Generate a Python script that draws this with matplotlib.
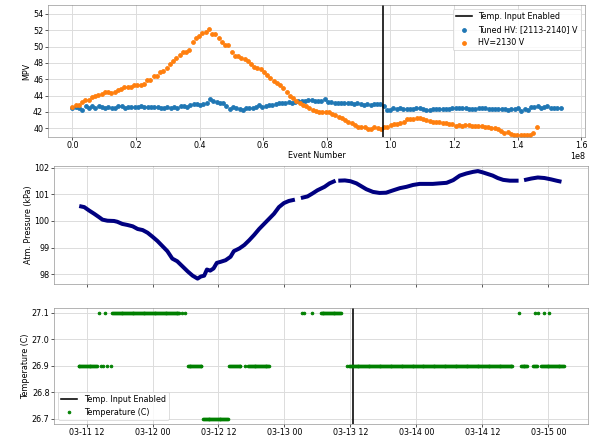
import numpy as np
import pandas as pd
import matplotlib
matplotlib.use('Agg')
import matplotlib.pyplot as plt
import matplotlib.dates as mdates

# ---- MPV vs event number ----
mpv_tuned = [
    42.5, 42.6, 42.5, 42.25, 42.7, 42.45, 42.7, 42.5, 42.7, 42.55,
    42.45, 42.6, 42.5, 42.5, 42.7, 42.7, 42.5, 42.55, 42.6, 42.6,
    42.6, 42.7, 42.6, 42.6, 42.6, 42.55, 42.6, 42.5, 42.5, 42.55,
    42.5, 42.6, 42.5, 42.7, 42.75, 42.6, 42.8,
    42.95, 43.0, 42.9, 42.95, 43.1, 43.6, 43.3, 43.2, 43.05, 43.05,
    42.7, 42.4, 42.55, 42.5, 42.4, 42.2, 42.5, 42.45, 42.5, 42.6,
    42.8, 42.6, 42.7, 42.8, 42.9, 42.95, 43.05, 43.05, 43.1, 43.2,
    43.15, 43.25, 43.3, 43.3, 43.3, 43.45, 43.45, 43.4,
    43.3, 43.3, 43.55, 43.2, 43.2, 43.15, 43.15, 43.15, 43.1, 43.1,
    43.05, 42.95, 43.15, 43.0, 42.9, 42.95, 42.9, 43.0, 43.0, 43.0,
    42.75, 42.25, 42.25, 42.45, 42.35, 42.45, 42.35, 42.4, 42.4, 42.4,
    42.45, 42.5, 42.35, 42.25, 42.25, 42.35, 42.4, 42.35, 42.35, 42.35,
    42.4, 42.45, 42.5, 42.5, 42.5, 42.45, 42.4, 42.4, 42.4, 42.45,
    42.45, 42.5, 42.4, 42.35, 42.4, 42.35, 42.35, 42.4, 42.25, 42.4,
    42.4, 42.45, 42.1, 42.4, 42.25, 42.65, 42.65, 42.7, 42.5, 42.6,
    42.7, 42.5, 42.5, 42.5, 42.5,
]
mpv_fixed = [
    42.6, 42.8, 42.9, 43.2, 43.5, 43.5, 43.8, 44.0, 44.1, 44.2,
    44.4, 44.4, 44.3, 44.5, 44.65, 44.8, 45.0, 45.0, 45.0, 45.3,
    45.3, 45.3, 45.4, 45.9, 45.9, 46.4, 46.4, 46.9, 47.0, 47.4,
    47.9, 48.2, 48.6, 49.0, 49.4, 49.4, 49.6, 50.6, 51.0, 51.3,
    51.7, 51.8, 52.2, 51.6, 51.6, 51.1, 50.6, 50.2, 50.2, 49.4,
    48.9, 48.8, 48.65, 48.5, 48.3, 47.9, 47.55, 47.4, 47.3, 46.9,
    46.5, 46.2, 45.8, 45.5, 45.3, 44.9, 44.5, 43.9, 43.7, 43.35,
    43.1, 42.9,
    42.7, 42.45, 42.2, 42.1, 42.0, 42.0, 42.0, 41.95, 41.8, 41.6,
    41.4, 41.2, 41.0, 40.8, 40.6, 40.45, 40.2, 40.1, 40.1, 39.9,
    39.9, 40.1, 40.0, 39.9, 40.2, 40.2, 40.45, 40.5, 40.55, 40.7,
    40.8, 41.1, 41.1, 41.15, 41.2, 41.2, 41.15, 41.05, 40.9, 40.8,
    40.8, 40.75, 40.7, 40.6, 40.55, 40.5, 40.3, 40.4, 40.3, 40.35,
    40.35, 40.3, 40.3, 40.3, 40.3, 40.2, 40.2, 40.05, 40.0, 39.85,
    39.7, 39.4, 39.5, 39.3, 39.2, 39.15, 39.2, 39.15, 39.2, 39.2,
    39.4, 40.1,
]
tuned_last_event = 1.535e8
fixed_last_event = 1.46e8
temp_enable_event = 0.976e8

# ---- Atmospheric pressure (hours after 03-11 12:00) ----
t0 = pd.Timestamp('2022-03-11 12:00')
pressure_hours = [
    -1.33, -0.42, 0.48, 1.39, 2.3, 2.9, 3.8, 5.0, 5.6, 6.5,
    7.45, 8.4, 9.3, 10.2, 11.1, 12.0, 12.9, 13.8, 14.7, 15.6,
    16.5, 17.45, 18.4, 19.3, 20.2, 20.8, 21.4, 21.9, 22.5, 23.1,
    23.7, 24.4, 25.3, 26.2, 26.8, 27.8, 28.7, 29.6, 30.5, 31.4,
    32.3, 33.2, 34.1, 35.0, 35.9, 36.8, 37.9, 38.45,
    39.0, 40.2, 41.1, 42.0, 43.3, 44.2, 45.3, 45.55,
    45.8, 47.0, 48.0, 49.1, 50.0, 50.9, 52.1, 53.3, 54.5, 55.8,
    57.0, 58.2, 59.4, 60.6, 61.8, 63.0, 64.2, 65.5, 66.7, 67.9,
    69.1, 70.3, 71.2, 72.1, 73.0, 73.9, 74.8, 75.8, 77.0, 78.6, 79.1,
    79.6, 80.9, 82.1, 83.3, 84.5, 85.5, 86.4,
]
pressure_kpa = [
    100.56, 100.52, 100.39, 100.27, 100.14, 100.05, 100.01, 100.0, 99.97, 99.89,
    99.85, 99.80, 99.70, 99.66, 99.56, 99.41, 99.25, 99.06, 98.87, 98.59,
    98.49, 98.30, 98.11, 97.95, 97.84, 97.92, 97.95, 98.18, 98.14, 98.22,
    98.43, 98.47, 98.53, 98.66, 98.87, 98.97, 99.10, 99.28, 99.48, 99.70,
    99.89, 100.08, 100.27, 100.52, 100.67, 100.75, 100.80, np.nan,
    100.86, 100.92, 101.03, 101.15, 101.28, 101.41, 101.51, np.nan,
    101.51, 101.52, 101.49, 101.41, 101.30, 101.19, 101.09, 101.05, 101.06, 101.15,
    101.23, 101.28, 101.35, 101.39, 101.39, 101.39, 101.41, 101.43, 101.53, 101.70,
    101.78, 101.84, 101.87, 101.82, 101.76, 101.70, 101.61, 101.54, 101.51, 101.51, np.nan,
    101.53, 101.59, 101.63, 101.61, 101.56, 101.51, 101.47,
]

# ---- Temperature: runs of constant reading + isolated readings ----
temp_run_start = [-1.45, 4.7, 18.4, 21.2, 26.0, 29.4, 42.6, 47.8, 79.0, 81.2, 82.7]
temp_run_end = [1.9, 16.9, 21.0, 25.7, 28.0, 33.3, 46.4, 77.5, 80.2, 81.9, 86.9]
temp_run_value = [26.9, 27.1, 26.9, 26.7, 26.9, 26.9, 27.1, 26.9, 26.9, 26.9, 26.9]
temp_dot_hours = [2.2, 2.6, 3.0, 3.3, 3.8, 4.4, 17.4, 18.0, 28.9,
                  39.2, 39.6, 41.0, 47.3, 78.6, 81.5, 82.2, 83.3, 84.1]
temp_dot_value = [27.1, 26.9, 26.9, 27.1, 26.9, 26.9, 27.1, 27.1, 26.9,
                  27.1, 27.1, 27.1, 26.9, 27.1, 27.1, 27.1, 27.1, 27.1]
sample_minutes = 10
temp_enable_hours = 48.5

# build temperature series
th, tv = [], []
for s, e, v in zip(temp_run_start, temp_run_end, temp_run_value):
    hrs = np.arange(s, e + 1e-6, sample_minutes / 60)
    th.extend(hrs)
    tv.extend([v] * len(hrs))
th.extend(temp_dot_hours)
tv.extend(temp_dot_value)
temp = pd.DataFrame({'t': t0 + pd.to_timedelta(th, unit='h'), 'T': tv}).sort_values('t')

press_t = t0 + pd.to_timedelta(pressure_hours, unit='h')
enable_t = t0 + pd.to_timedelta(temp_enable_hours, unit='h')

W, H = 602, 437
DPI = 57.5
plt.rcParams['xtick.major.pad'] = 1.2
plt.rcParams['ytick.major.pad'] = 2.5
fig = plt.figure(figsize=(W / DPI, H / DPI), dpi=DPI)
ax1 = fig.add_axes([48 / W, 1 - 137 / H, 537 / W, 132 / H])
ax2 = fig.add_axes([54.3 / W, 1 - 284 / H, 534 / W, 118.3 / H])
ax3 = fig.add_axes([54.3 / W, 1 - 424 / H, 534 / W, 116.3 / H], sharex=ax2)

for ax in (ax1, ax2, ax3):
    ax.grid(True, color='#dcdcdc', lw=1.2)
    ax.set_axisbelow(True)
    for sp in ax.spines.values():
        sp.set_edgecolor('0.55')

# Panel 1
x_tuned = np.linspace(0, tuned_last_event, len(mpv_tuned))
x_fixed = np.linspace(0, fixed_last_event, len(mpv_fixed))
ax1.axvline(temp_enable_event, color='black', lw=2, label='Temp. Input Enabled')
ax1.scatter(x_tuned, mpv_tuned, s=24, label='Tuned HV: [2113-2140] V')
ax1.scatter(x_fixed, mpv_fixed, s=24, label='HV=2130 V')
ax1.set_ylim(38.93, 55.1)
ax1.set_yticks(np.arange(40, 55, 2))
ax1.set_xlabel('Event Number', labelpad=2)
ax1.set_ylabel('MPV', labelpad=2)
ax1.legend(loc='upper right')

# Panel 2
ax2.plot(press_t, pressure_kpa, color='navy', lw=5, solid_capstyle='butt')
ax2.set_yticks([98, 99, 100, 101, 102])
ax2.set_ylabel('Atm. Pressure (kPa)', labelpad=2)
ax2.tick_params(labelbottom=False)

# Panel 3
ax3.axvline(enable_t, color='black', lw=2, label='Temp. Input Enabled')
ax3.plot(temp['t'], temp['T'], '.', color='green', ms=7, label='Temperature (C)')
ax3.set_yticks([26.7, 26.8, 26.9, 27.0, 27.1])
ax3.set_ylabel('Temperature (C)', labelpad=2)
ax3.xaxis.set_major_locator(mdates.HourLocator(byhour=[0, 12]))
ax3.xaxis.set_major_formatter(mdates.DateFormatter('%m-%d %H'))
ax3.legend(loc='lower left')

plt.savefig('out.png', dpi=DPI)
